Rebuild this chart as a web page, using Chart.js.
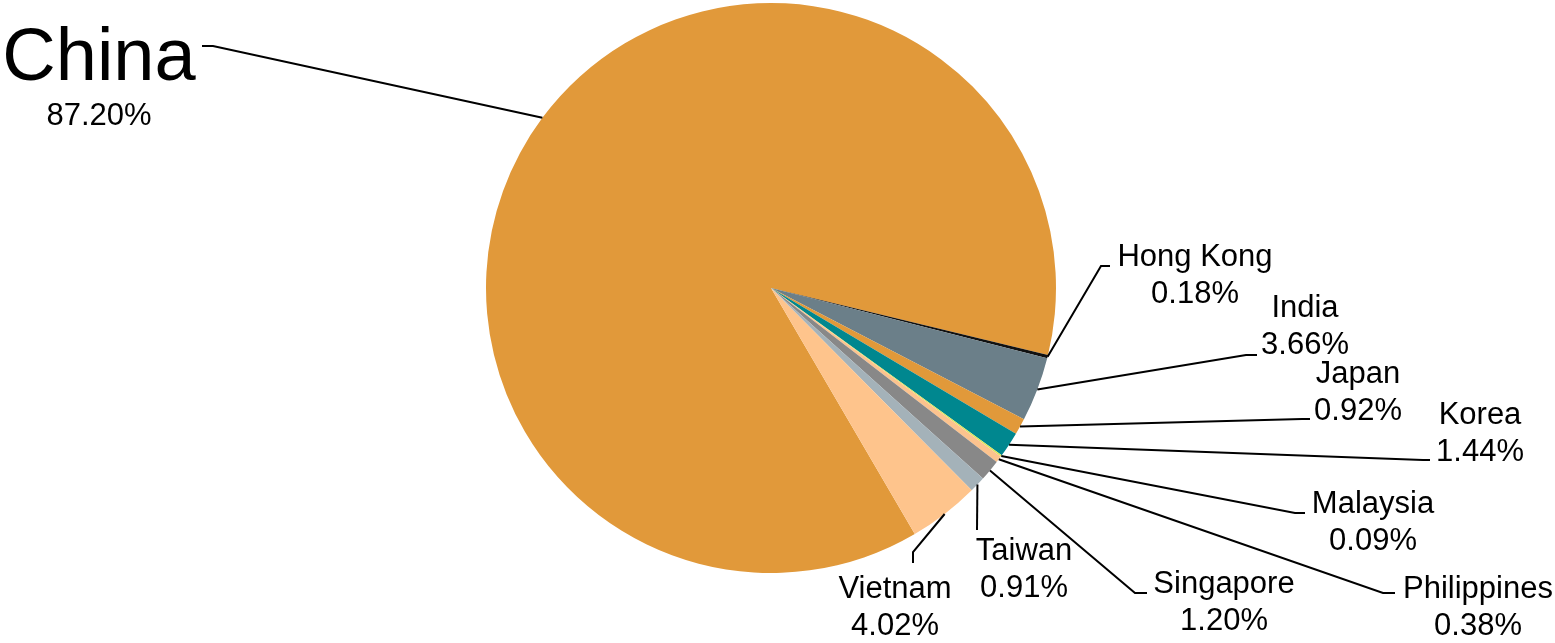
<!DOCTYPE html>
<html>
<head>
<meta charset="utf-8">
<script src="https://cdn.jsdelivr.net/npm/chart.js@4"></script>
<style>
  body { margin: 0; background: #fff; }
  #wrap { width: 1555px; height: 643px; position: relative; }
</style>
</head>
<body>
<div id="wrap"><canvas id="shareChart"></canvas></div>
<script>
// data
const countries = ['China', 'Hong Kong', 'India', 'Japan', 'Korea', 'Malaysia', 'Philippines', 'Singapore', 'Taiwan', 'Vietnam'];
const shares = [87.20, 0.18, 3.66, 0.92, 1.44, 0.09, 0.38, 1.20, 0.91, 4.02];
const sliceColors = ['#e1993a', '#111111', '#6b7f89', '#e1993a', '#00878f', '#d9e65a', '#fcc38e', '#888888', '#a4b2b9', '#fec48c'];

// label layout: [text centre x, first baseline y], leader elbow and end points (null = none)
const labelPos = [[99, 80], [1195, 266], [1305, 317], [1358, 383], [1480, 424], [1373, 513], [1478, 598], [1224, 593], [1024, 560], [895, 598]];
const leaderElbow = [[213, 46], [1101, 266], [1246, 355], [1302, 419], [1423, 460], [1295, 513], [1383, 593], [1135, 593], null, [913, 552]];
const leaderEnd = [[202, 46], [1110, 266], [1257, 355], [1310, 419], [1430, 460], [1305, 513], [1395, 593], [1147, 593], [977, 530], [913, 563]];

const calloutPlugin = {
    id: 'callouts',
    afterDatasetsDraw(chart) {
        const ctx = chart.ctx;
        const arcs = chart.getDatasetMeta(0).data;
        ctx.save();
        ctx.strokeStyle = '#000';
        ctx.lineWidth = 2;
        ctx.fillStyle = '#000';
        ctx.textAlign = 'center';
        arcs.forEach((arc, i) => {
            const p = arc.getProps(['x', 'y', 'startAngle', 'endAngle', 'outerRadius'], true);
            const mid = (p.startAngle + p.endAngle) / 2;
            const sx = p.x + Math.cos(mid) * p.outerRadius;
            const sy = p.y + Math.sin(mid) * p.outerRadius;
            ctx.beginPath();
            ctx.moveTo(sx, sy);
            if (leaderElbow[i]) ctx.lineTo(leaderElbow[i][0], leaderElbow[i][1]);
            ctx.lineTo(leaderEnd[i][0], leaderEnd[i][1]);
            ctx.stroke();

            const [lx, ly] = labelPos[i];
            const big = i === 0;
            ctx.font = (big ? '74px' : '31px') + " 'Liberation Sans', Arial, sans-serif";
            ctx.fillText(countries[i], lx, ly);
            ctx.font = "31px 'Liberation Sans', Arial, sans-serif";
            ctx.fillText(shares[i].toFixed(2) + '%', lx, ly + (big ? 45 : 37));
        });
        ctx.restore();
    }
};

const ctx = document.getElementById('shareChart').getContext('2d');
const shareChart = new Chart(ctx, {
    type: 'pie',
    data: {
        labels: countries,
        datasets: [{
            data: shares,
            backgroundColor: sliceColors,
            borderWidth: 0
        }]
    },
    options: {
        responsive: true,
        maintainAspectRatio: false,
        animation: false,
        rotation: 149.7,
        layout: { padding: { top: 3, bottom: 70, left: 0, right: 13 } },
        plugins: {
            legend: { display: false },
            tooltip: { enabled: false }
        }
    },
    plugins: [calloutPlugin]
});
</script>
</body>
</html>
